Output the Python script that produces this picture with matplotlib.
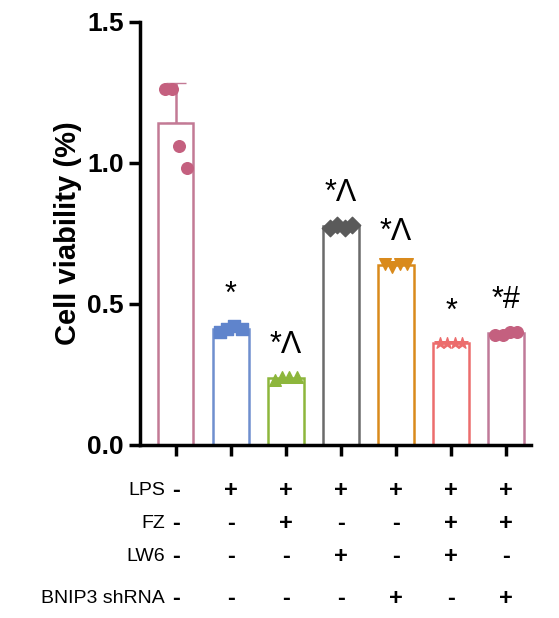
import matplotlib.pyplot as plt
import numpy as np

plt.rcParams['font.family'] = ['Liberation Sans', 'DejaVu Sans']

points = [
    [1.26, 1.26, 1.06, 0.98],
    [0.40, 0.41, 0.42, 0.41],
    [0.23, 0.24, 0.24, 0.24],
    [0.77, 0.78, 0.77, 0.78],
    [0.64, 0.63, 0.64, 0.64],
    [0.36, 0.36, 0.36, 0.36],
    [0.39, 0.39, 0.40, 0.40],
]
colors = ['#c37a95', '#6f8fce', '#8db63c', '#6b6b6b', '#d98a1c', '#ec6d6d', '#c07a99']
dots = ['#c4607f', '#5f84cc', '#8db63c', '#5a5a5a', '#d98a1c', '#ec6d6d', '#c4607f']
markers = ['o', 's', '^', 'D', 'v', '*', 'o']
rows = ['LPS', 'FZ', 'LW6', 'BNIP3 shRNA']
signs = [
    ['-', '+', '+', '+', '+', '+', '+'],
    ['-', '-', '+', '-', '-', '+', '+'],
    ['-', '-', '-', '+', '-', '+', '-'],
    ['-', '-', '-', '-', '+', '-', '+'],
]
stars = [None, '*', '*^', '*^', '*^', '*', '*#']

fig = plt.figure(figsize=(5.59, 6.18), dpi=100)
ax = fig.add_axes([0.25, 0.28, 0.70, 0.685])
x = np.arange(7)
xmin, xmax = -0.65, 6.45
for i, p in enumerate(points):
    m = np.mean(p)
    ax.bar(i, m, width=0.65, facecolor='white', edgecolor=colors[i], linewidth=1.8, zorder=2)
    offs = np.linspace(-0.2, 0.2, 4)
    ax.scatter(i + offs, p, s=70, color=dots[i], marker=markers[i], zorder=3)
    if i == 0:
        sd = np.std(p, ddof=1)
        ax.errorbar(i, m, yerr=[[0], [sd]], color=colors[i], capsize=7, lw=1.8, zorder=1)
    if stars[i]:
        ax.text(i, max(p) + 0.06, stars[i].replace('^', 'Λ'), ha='center', va='bottom', fontsize=22)

ax.set_xlim(xmin, xmax)
ax.set_ylim(0, 1.5)
ax.set_yticks([0, 0.5, 1.0, 1.5])
ax.set_yticklabels(['0.0', '0.5', '1.0', '1.5'], fontsize=19, fontweight='bold')
ax.set_ylabel('Cell viability (%)', fontsize=21, fontweight='bold')
ax.set_xticks(x)
ax.set_xticklabels([])
ax.tick_params(axis='both', width=2.5, length=8)
for s in ['top', 'right']:
    ax.spines[s].set_visible(False)
for s in ['left', 'bottom']:
    ax.spines[s].set_linewidth(2.5)

row_y = [0.207, 0.153, 0.100, 0.032]
for r, name in enumerate(rows):
    fig.text(0.295, row_y[r], name, ha='right', va='center', fontsize=14)
    for i in range(7):
        xf = 0.25 + 0.70 * (i - xmin) / (xmax - xmin)
        fig.text(xf, row_y[r], signs[r][i], ha='center', va='center', fontsize=17, fontweight='bold')

fig.savefig('out.png')
